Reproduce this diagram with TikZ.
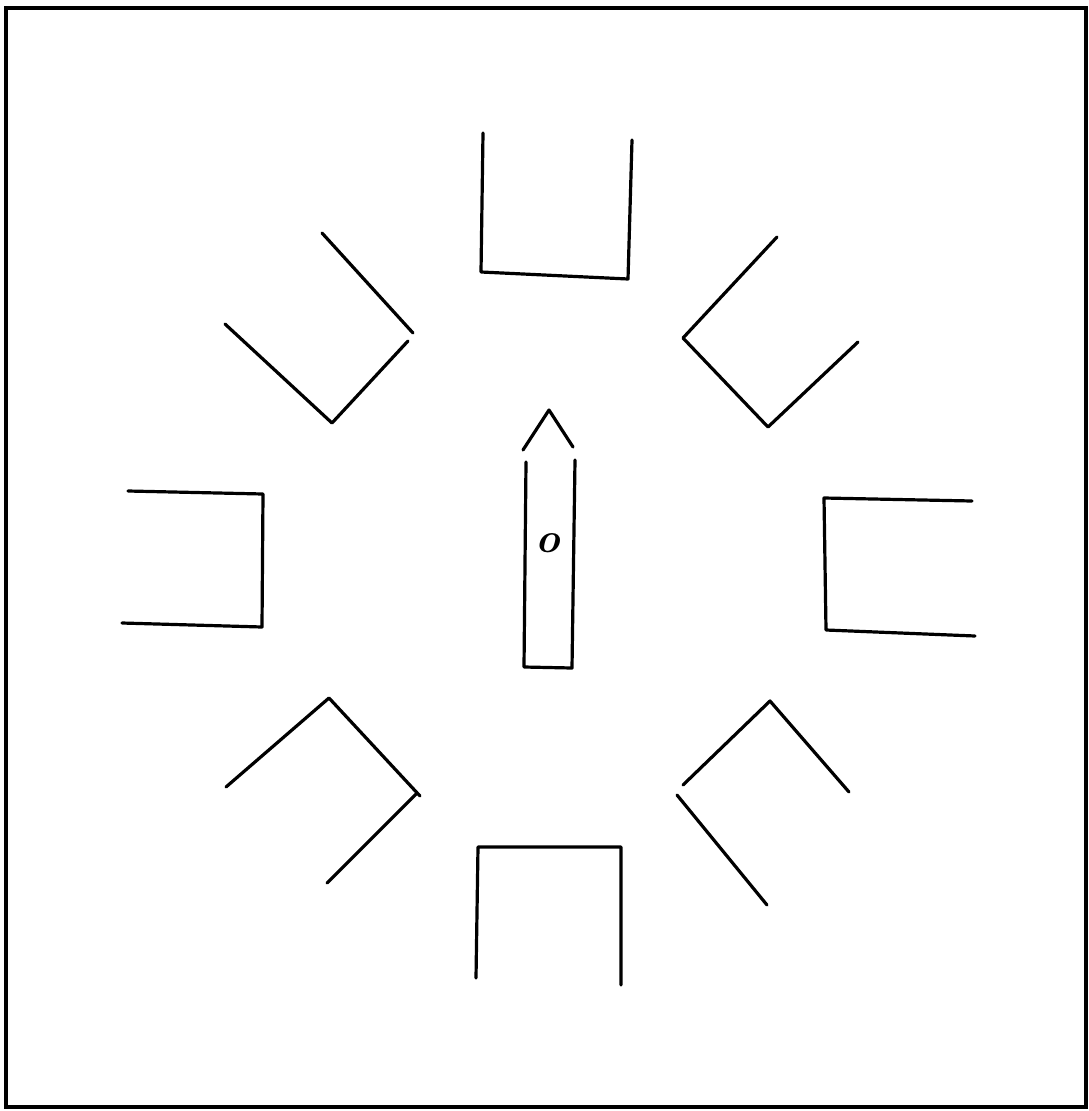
\documentclass[tikz,border=0pt]{standalone}
\begin{document}
\begin{tikzpicture}[x=1pt,y=-1pt,
  stroke/.style={line width=3.2pt,line cap=round,line join=round},
  frame/.style={line width=4pt}]
\useasboundingbox (0,0) rectangle (1089,1111);
\fill[white] (0,0) rectangle (1089,1111);
\draw[frame] (6,8) rectangle (1086,1107);
% top U
\draw[stroke] (483,133) -- (481,272) -- (628,279) -- (632,140);
% upper-left
\draw[stroke] (322,233) -- (413,333);
\draw[stroke] (225,324) -- (332,423) -- (408,341);
% upper-right
\draw[stroke] (777,237) -- (683,338) -- (768,427) -- (858,342);
% left U
\draw[stroke] (128,491) -- (263,494) -- (262,627) -- (122,623);
% right U
\draw[stroke] (972,501) -- (824,498) -- (826,630) -- (975,636);
% lower-left
\draw[stroke] (226,787) -- (329,698) -- (420,796);
\draw[stroke] (417,793) -- (327,883);
% lower-right
\draw[stroke] (683,785) -- (770,701) -- (849,792);
\draw[stroke] (677,795) -- (767,905);
% bottom inverted U
\draw[stroke] (476,978) -- (478,847) -- (621,847) -- (621,985);
% centre pencil
\draw[stroke] (523,450) -- (549,410) -- (573,447);
\draw[stroke] (526,462) -- (524,667) -- (572,668) -- (575,460);
\node[scale=4.2,inner sep=0pt] (o) at (548,543) {\bfseries\itshape o};
\end{tikzpicture}
\end{document}
